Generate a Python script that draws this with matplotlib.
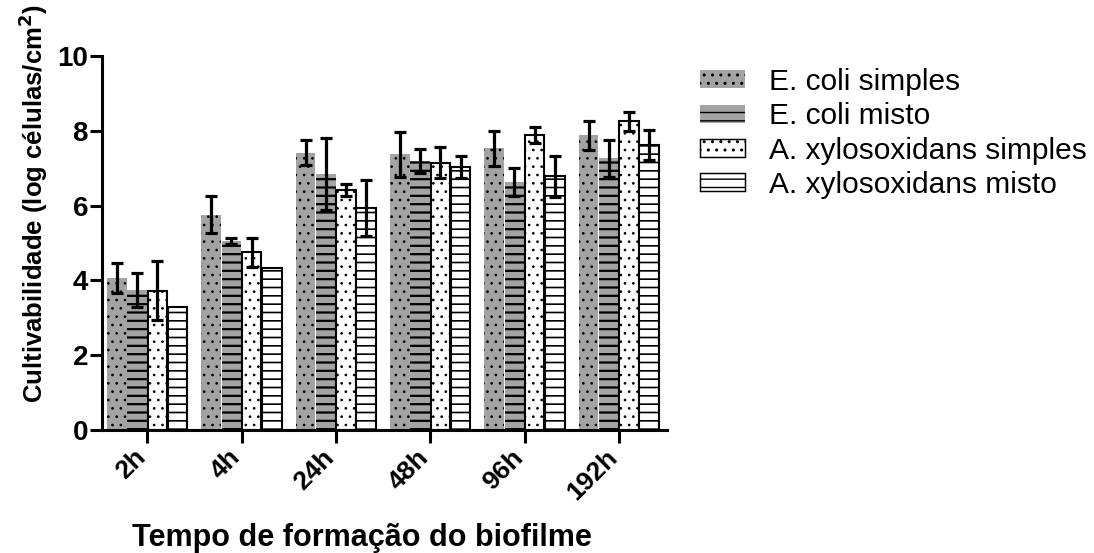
import numpy as np
import matplotlib
matplotlib.use('Agg')
from matplotlib import pyplot as plt
from matplotlib.patches import Patch
from matplotlib.transforms import ScaledTranslation

plt.rcParams['font.family'] = ['Liberation Sans', 'DejaVu Sans']

times = ['2h', '4h', '24h', '48h', '96h', '192h']
series = ['E. coli simples', 'E. coli misto', 'A. xylosoxidans simples', 'A. xylosoxidans misto']

ecoli_simples = [4.07, 5.76, 7.42, 7.37, 7.53, 7.88]
ecoli_misto = [3.75, 5.05, 6.84, 7.19, 6.64, 7.26]
axylo_simples = [3.73, 4.75, 6.42, 7.15, 7.89, 8.25]
axylo_misto = [3.28, 4.32, 5.94, 7.03, 6.79, 7.62]

ecoli_simples_err = [0.40, 0.50, 0.34, 0.61, 0.47, 0.39]
ecoli_misto_err = [0.45, 0.08, 0.96, 0.32, 0.37, 0.49]
axylo_simples_err = [0.80, 0.38, 0.15, 0.41, 0.21, 0.25]
axylo_misto_err = [0.0, 0.0, 0.75, 0.30, 0.55, 0.39]

values = [ecoli_simples, ecoli_misto, axylo_simples, axylo_misto]
errors = [ecoli_simples_err, ecoli_misto_err, axylo_simples_err, axylo_misto_err]

# fill, hatch, edge width, hatch width
styles = [('#a3a3a3', '..', 0, 0.7), ('#a3a3a3', '--', 0, 1.6),
          ('white', '..', 1.5, 0.7), ('white', '--', 1.5, 1.2)]

fig = plt.figure(figsize=(10.94, 5.53), dpi=100)
ax = fig.add_axes([0.0932, 0.2224, 0.5165, 0.6763])

x = np.arange(len(times))
w = 0.208
for i in range(4):
	pos = x + (i - 1.5) * (w + 0.006)
	fc, hatch, lw, hlw = styles[i]
	with plt.rc_context({'hatch.linewidth': hlw}):
		ax.bar(pos, values[i], w, color=fc, edgecolor='black', linewidth=lw, hatch=hatch, zorder=2)
	err = np.array(errors[i])
	m = err > 0
	ax.errorbar(pos[m], np.array(values[i])[m], yerr=err[m], fmt='none', ecolor='black',
	            elinewidth=2.3, capsize=4.5, capthick=2.3, zorder=3)

ax.set_xlim(-0.48, 5.51)
ax.set_ylim(0, 10)
ax.set_yticks([0, 2, 4, 6, 8, 10])
ax.set_xticks(x)
ax.set_xticklabels(times, rotation=45, ha='right', va='top', rotation_mode='anchor')
for s in ['top', 'right']:
	ax.spines[s].set_visible(False)
for s in ['left', 'bottom']:
	ax.spines[s].set_linewidth(2.2)
ax.tick_params(axis='both', width=2.2, length=9, labelsize=20, pad=1)
ax.tick_params(axis='x', labelsize=19, pad=4)
shift = ScaledTranslation(-14 / 100, 3 / 100, fig.dpi_scale_trans)
for lab in ax.get_xticklabels():
	lab.set_fontweight('bold')
	lab.set_transform(lab.get_transform() + shift)
for lab in ax.get_yticklabels():
	lab.set_fontweight('bold')

fig.text(0.030, 0.633, 'Cultivabilidade (log células/cm$^\\mathbf{2}$)', fontsize=18.5,
         fontweight='bold', rotation=90, ha='center', va='center')
fig.text(362 / 1094, 0.012, 'Tempo de formação do biofilme', fontsize=22,
         fontweight='bold', ha='center', va='baseline')

handles = []
for i in range(4):
	fc, hatch, lw, hlw = styles[i]
	with plt.rc_context({'hatch.linewidth': hlw}):
		handles.append(Patch(facecolor=fc, edgecolor='black', linewidth=lw * 0.7, hatch=hatch, label=series[i]))
fig.legend(handles=handles, loc='upper left', bbox_to_anchor=(0.640, 0.877), frameon=False,
           fontsize=21.5, handlelength=1.5, handleheight=0.55, labelspacing=0.21, handletextpad=0.8,
           borderaxespad=0, borderpad=0)

plt.savefig('out.png', dpi=100)
